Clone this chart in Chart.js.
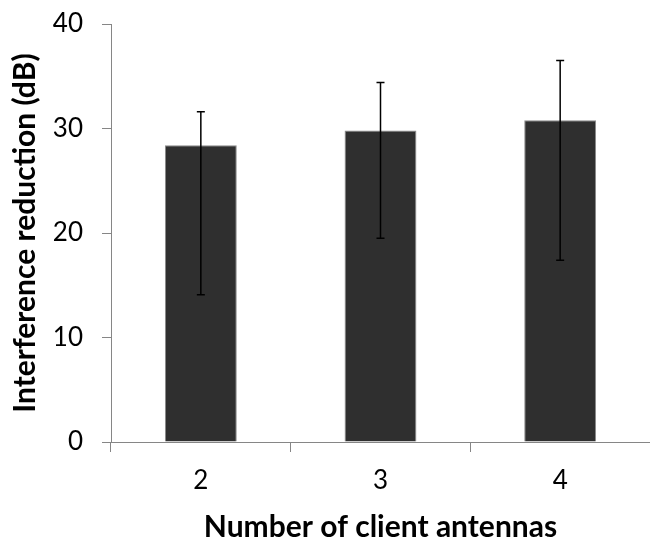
<!DOCTYPE html>
<html>
<head>
<meta charset="utf-8">
<script src="https://cdn.jsdelivr.net/npm/chart.js@4"></script>
<style>
  html, body { margin: 0; padding: 0; background: #fff; }
  #wrap { width: 650px; height: 542px; position: relative; }
</style>
</head>
<body>
<div id="wrap"><canvas id="chart"></canvas></div>
<script>
const categories = ['2', '3', '4'];
const reduction = [28.4, 29.8, 30.8];
const errLow = [14.1, 19.5, 17.4];
const errHigh = [31.6, 34.4, 36.5];
const yTicks = [0, 10, 20, 30, 40];

const FONT = 'Lato, "Open Sans", sans-serif';
const AXIS = '#868686';

// draws the min/max whiskers over each bar
const errorBars = {
  id: 'errorBars',
  afterDatasetsDraw(chart) {
    const { ctx, scales } = chart;
    const bars = chart.getDatasetMeta(0).data;
    ctx.save();
    ctx.strokeStyle = '#000';
    ctx.lineWidth = 1.5;
    bars.forEach((bar, i) => {
      const top = scales.y.getPixelForValue(errHigh[i]);
      const bot = scales.y.getPixelForValue(errLow[i]);
      ctx.beginPath();
      ctx.moveTo(bar.x, top);
      ctx.lineTo(bar.x, bot);
      ctx.moveTo(bar.x - 4, top);
      ctx.lineTo(bar.x + 4, top);
      ctx.moveTo(bar.x - 4, bot);
      ctx.lineTo(bar.x + 4, bot);
      ctx.stroke();
    });
    ctx.restore();
  },
};

new Chart(document.getElementById('chart'), {
  type: 'bar',
  data: {
    labels: categories,
    datasets: [
      {
        data: reduction,
        backgroundColor: '#2f2f2f',
        borderColor: '#8a8a8a',
        borderWidth: 1,
        categoryPercentage: 1,
        barPercentage: 0.4,
      },
    ],
  },
  options: {
    responsive: true,
    maintainAspectRatio: false,
    animation: false,
    layout: { padding: { top: 24, right: 0, left: 0, bottom: 0 } },
    plugins: {
      legend: { display: false },
      tooltip: { enabled: false },
    },
    scales: {
      x: {
        afterFit: (s) => {
          s.height = 100;
          s.paddingLeft = 0;
          s.paddingRight = 0;
        },
        grid: {
          drawOnChartArea: false,
          drawTicks: true,
          tickLength: 10,
          color: AXIS,
        },
        border: { color: AXIS, width: 1 },
        ticks: {
          color: '#000',
          padding: 13,
          font: { family: FONT, size: 26 },
        },
        title: {
          display: true,
          text: 'Number of client antennas',
          color: '#000',
          padding: { top: 0, bottom: 0 },
          font: { family: FONT, size: 30, weight: 'bold', lineHeight: 1 },
        },
      },
      y: {
        min: 0,
        max: 40,
        afterFit: (s) => {
          s.width = 111;
          s.paddingTop = 0;
          s.paddingBottom = 0;
        },
        afterBuildTicks: (s) => { s.ticks = yTicks.map((v) => ({ value: v })); },
        grid: {
          drawOnChartArea: false,
          drawTicks: true,
          tickLength: 9,
          color: AXIS,
        },
        border: { color: AXIS, width: 1 },
        ticks: {
          color: '#000',
          padding: 19,
          font: { family: FONT, size: 26 },
        },
        title: {
          display: true,
          text: 'Interference reduction (dB)',
          color: '#000',
          padding: { top: 7, bottom: 0 },
          font: { family: FONT, size: 30, weight: 'bold' },
        },
      },
    },
  },
  plugins: [errorBars],
});
</script>
</body>
</html>
